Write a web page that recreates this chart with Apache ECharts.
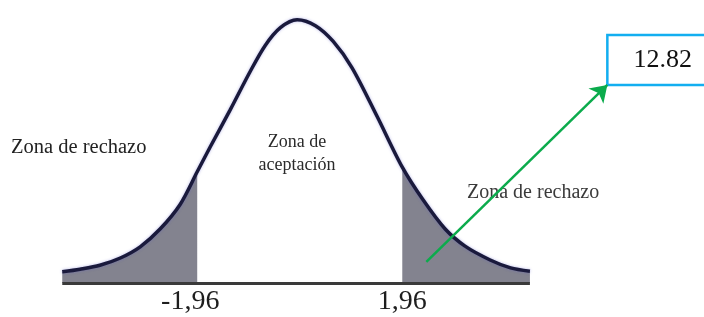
<!DOCTYPE html>
<html>
<head>
<meta charset="utf-8">
<script src="https://cdn.jsdelivr.net/npm/echarts@6/dist/echarts.min.js"></script>
<style>
  html, body { margin: 0; padding: 0; background: #fff; }
  #main { width: 704px; height: 317px; }
</style>
</head>
<body>
<div id="main"></div>
<script>
// curve (z position, height)
const zValues = [-4.54, -4.20, -3.82, -3.43, -3.05, -2.67, -2.29, -1.96, -1.71, -1.33, -0.95, -0.66, -0.37, -0.05,
  0.30, 0.64, 1.00, 1.48, 1.96, 2.36, 2.78, 3.16, 3.64, 4.03, 4.40];
const heights = [0.017, 0.021, 0.027, 0.038, 0.055, 0.082, 0.119, 0.169, 0.207, 0.263, 0.321, 0.361, 0.388, 0.400,
  0.391, 0.367, 0.327, 0.253, 0.176, 0.126, 0.082, 0.056, 0.035, 0.023, 0.018];
const criticalValues = [-1.96, 1.96];
const statValue = 12.82;
// arrow from the right tail to the statistic box
const arrowFrom = [2.42, 0.032];
const arrowTo = [5.88, 0.301];
const boxCorners = [[5.88, 0.377], [8.0, 0.301]];

const curve = zValues.map((z, i) => [z, heights[i]]);
const leftTail = curve.filter(p => p[0] <= criticalValues[0]);
const rightTail = curve.filter(p => p[0] >= criticalValues[1]);

const serif = "'Liberation Serif', 'Times New Roman', serif";
const myChart = echarts.init(document.getElementById('main'));

const option = {
  animation: false,
  backgroundColor: '#ffffff',
  grid: { left: 0, right: -20, top: 0, bottom: 34, outerBoundsMode: 'none' },
  xAxis: {
    type: 'value',
    min: -5.73,
    max: 8.11,
    axisLine: { show: false },
    axisTick: { show: false },
    splitLine: { show: false },
    axisLabel: {
      customValues: criticalValues,
      formatter: v => (v < 0 ? '{n|' : '{p|') + String(v).replace('.', ',') + '}',
      rich: {
        n: { fontFamily: serif, fontSize: 28, color: '#1e1e1e', padding: [0, 14, 0, 0] },
        p: { fontFamily: serif, fontSize: 28, color: '#1e1e1e' }
      },
      margin: 5
    }
  },
  yAxis: { type: 'value', min: 0, max: 0.43, show: false },
  graphic: [
    {
      type: 'text', left: 11, top: 137,
      style: { text: 'Zona de rechazo', font: '20.5px ' + serif, fill: '#222' }
    },
    {
      type: 'text', x: 297, y: 154,
      style: { text: 'Zona de\naceptación', font: '18px ' + serif, fill: '#2a2a2a',
        align: 'center', verticalAlign: 'middle', lineHeight: 23 }
    },
    {
      type: 'text', left: 467, top: 183,
      style: { text: 'Zona de rechazo', font: '20px ' + serif, fill: '#3a3a3a' }
    }
  ],
  series: [
    {
      type: 'line',
      data: leftTail,
      smooth: 0.3,
      symbol: 'none',
      lineStyle: { width: 0 },
      areaStyle: { color: '#83838f', opacity: 1 },
      z: 1
    },
    {
      type: 'line',
      data: rightTail,
      smooth: 0.3,
      symbol: 'none',
      lineStyle: { width: 0 },
      areaStyle: { color: '#83838f', opacity: 1 },
      z: 1
    },
    {
      type: 'line',
      data: curve,
      smooth: 0.3,
      symbol: 'none',
      lineStyle: { color: '#1a1a3c', width: 3.5, shadowColor: 'rgba(90,90,200,0.45)', shadowBlur: 3 },
      z: 3,
      markLine: {
        silent: true,
        symbol: 'none',
        label: { show: false },
        lineStyle: { color: '#3a3a3a', width: 3, type: 'solid' },
        data: [[{ coord: [zValues[0], 0] }, { coord: [zValues[zValues.length - 1], 0] }]]
      }
    },
    {
      type: 'line',
      data: [],
      z: 5,
      markArea: {
        silent: true,
        itemStyle: { color: '#ffffff', borderColor: '#13aef0', borderWidth: 2.5 },
        label: {
          show: true, position: 'inside', formatter: String(statValue),
          fontFamily: serif, fontSize: 26, color: '#111'
        },
        data: [[{ coord: boxCorners[0] }, { coord: boxCorners[1] }]]
      },
      markLine: {
        silent: true,
        symbol: ['none', 'arrow'],
        symbolSize: 16,
        label: { show: false },
        lineStyle: { color: '#0bab4c', width: 2.5, type: 'solid' },
        data: [[{ coord: arrowFrom }, { coord: arrowTo }]]
      }
    }
  ]
};

option && myChart.setOption(option);
</script>
</body>
</html>
